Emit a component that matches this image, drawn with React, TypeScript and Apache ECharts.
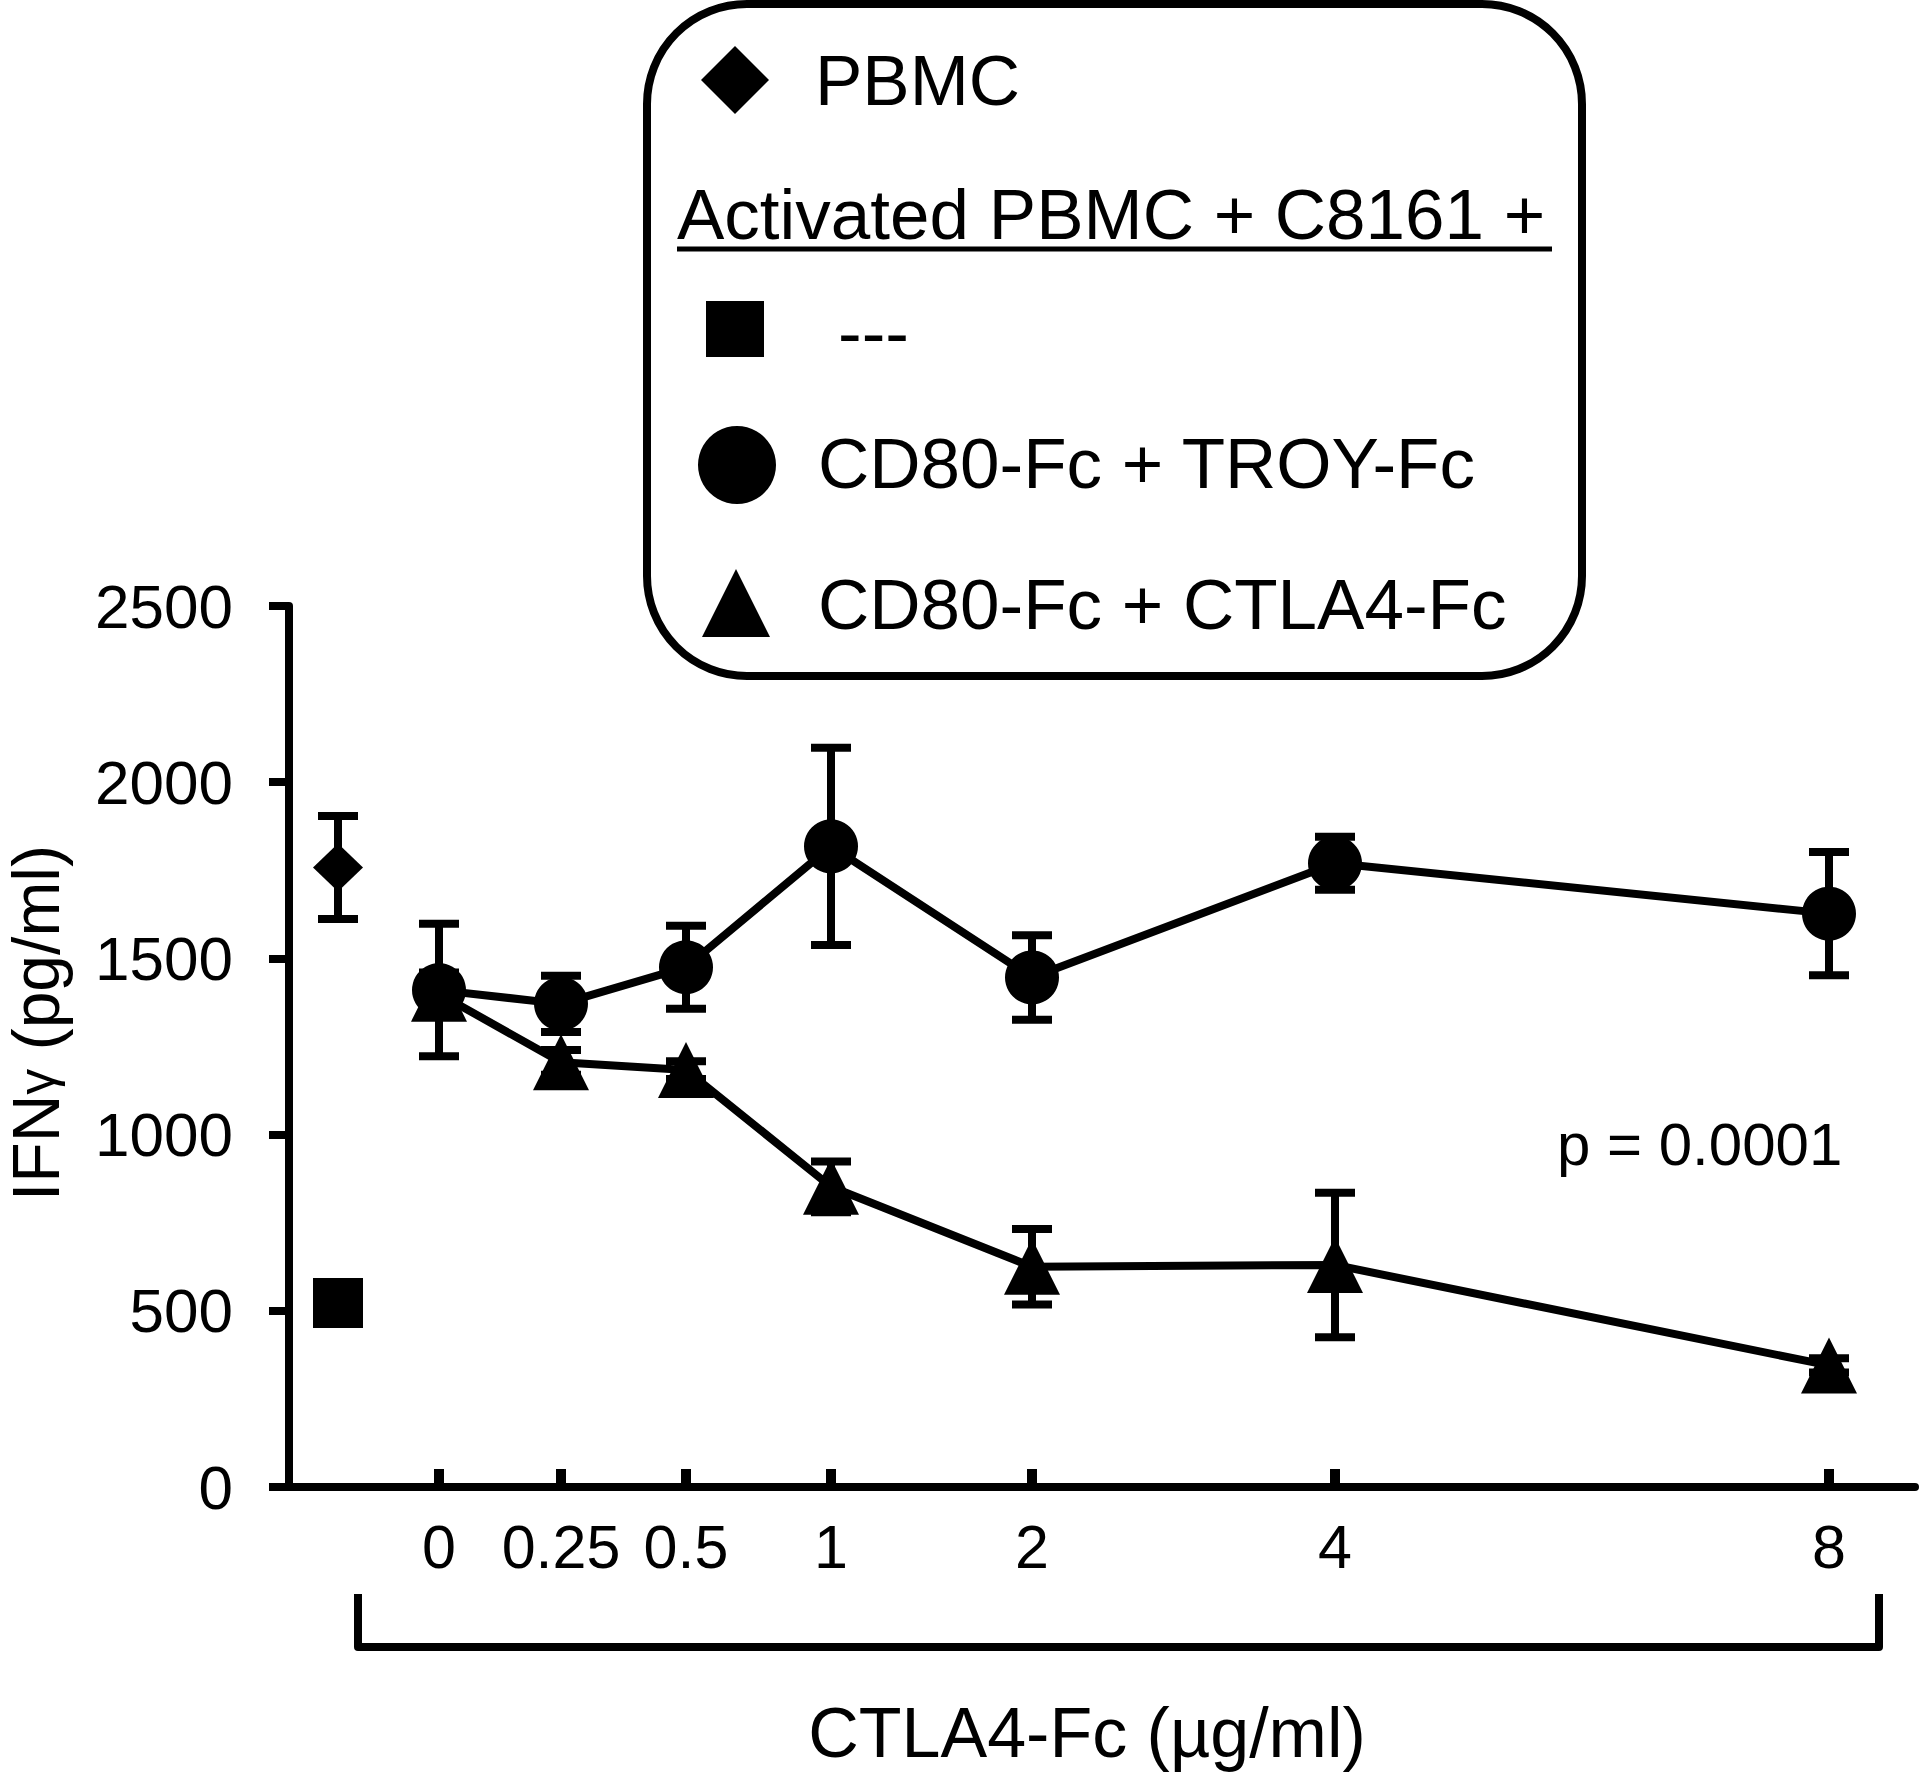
import React, { useEffect, useRef } from "react";
import * as echarts from "echarts";

const FONT = '"Liberation Sans", Arial, Helvetica, sans-serif';

// x tick labels (CTLA4-Fc concentration, µg/ml) and their slot positions on the axis
const concLabels = ["0", "0.25", "0.5", "1", "2", "4", "8"];
const concPos = [1.5, 2.72, 3.97, 5.42, 7.43, 10.46, 15.4];
const controlPos = 0.49;

// controls
const pbmcMean = 1758;
const pbmcErr = 146;
const unstimMean = 522;

// Activated PBMC + C8161 + CD80-Fc + TROY-Fc
const troyMeans = [1410, 1371, 1475, 1818, 1446, 1770, 1627];
const troyErr = [188, 80, 118, 280, 120, 75, 175];

// Activated PBMC + C8161 + CD80-Fc + CTLA4-Fc
const ctlaMeans = [1400, 1205, 1183, 852, 625, 630, 345];
const ctlaErr = [60, 35, 25, 72, 107, 205, 20];

const yMin = 0;
const yMax = 2500;
const yStep = 500;

export default function App() {
  const ref = useRef<HTMLDivElement>(null);

  useEffect(() => {
    if (!ref.current) return;
    const chart = echarts.init(ref.current, null, { renderer: "svg" });

    const troyData = concPos.map((x, i) => [x, troyMeans[i]]);
    const ctlaData = concPos.map((x, i) => [x, ctlaMeans[i]]);
    const errData: number[][] = [
      [controlPos, pbmcMean, pbmcErr],
      ...concPos.map((x, i) => [x, troyMeans[i], troyErr[i]]),
      ...concPos.map((x, i) => [x, ctlaMeans[i], ctlaErr[i]]),
    ];

    const errRender = (_p: any, api: any) => {
      const x = api.value(0);
      const y = api.value(1);
      const e = api.value(2);
      const top = api.coord([x, y + e]);
      const bot = api.coord([x, y - e]);
      const hw = 20;
      const style = { stroke: "#000", lineWidth: 8 };
      return {
        type: "group",
        children: [
          { type: "line", shape: { x1: top[0], y1: top[1], x2: bot[0], y2: bot[1] }, style },
          { type: "line", shape: { x1: top[0] - hw, y1: top[1], x2: top[0] + hw, y2: top[1] }, style },
          { type: "line", shape: { x1: bot[0] - hw, y1: bot[1], x2: bot[0] + hw, y2: bot[1] }, style },
        ],
      };
    };

    const legendFont = 71;
    const txt = (text: string, x: number, y: number, size: number, align = "left") => ({
      type: "text",
      x,
      y,
      style: {
        text,
        fontSize: size,
        fontFamily: FONT,
        fill: "#000",
        align,
        verticalAlign: "middle",
      },
    });

    const option: any = {
      animation: false,
      backgroundColor: "#fff",
      grid: { left: 289, right: 5, top: 606, bottom: 289, containLabel: false },
      xAxis: {
        type: "value",
        min: 0,
        max: 16.26,
        axisLine: { show: true, onZero: false, lineStyle: { color: "#000", width: 8 } },
        axisTick: {
          show: true,
          inside: true,
          length: 18,
          customValues: concPos,
          lineStyle: { color: "#000", width: 10 },
        },
        axisLabel: {
          show: true,
          customValues: concPos,
          margin: 29,
          fontSize: 61,
          fontFamily: FONT,
          color: "#000",
          formatter: (v: number) => {
            const i = concPos.findIndex((p) => Math.abs(p - v) < 1e-6);
            return i >= 0 ? concLabels[i] : "";
          },
        },
        splitLine: { show: false },
      },
      yAxis: {
        type: "value",
        min: yMin,
        max: yMax,
        interval: yStep,
        axisLine: { show: true, lineStyle: { color: "#000", width: 8 } },
        axisTick: { show: true, inside: false, length: 20, lineStyle: { color: "#000", width: 8 } },
        axisLabel: {
          margin: 56,
          fontSize: 62,
          fontFamily: FONT,
          color: "#000",
          formatter: (v: number) => String(v),
        },
        splitLine: { show: false },
      },
      series: [
        {
          name: "PBMC",
          type: "scatter",
          symbol: "diamond",
          symbolSize: [50, 48],
          itemStyle: { color: "#000", opacity: 1 },
          data: [[controlPos, pbmcMean]],
        },
        {
          name: "---",
          type: "scatter",
          symbol: "rect",
          symbolSize: 50,
          itemStyle: { color: "#000", opacity: 1 },
          data: [[controlPos, unstimMean]],
        },
        {
          name: "CD80-Fc + CTLA4-Fc",
          type: "line",
          symbol: "triangle",
          symbolSize: 56,
          showAllSymbol: true,
          itemStyle: { color: "#000", opacity: 1 },
          lineStyle: { color: "#000", width: 8 },
          data: ctlaData,
        },
        {
          name: "CD80-Fc + TROY-Fc",
          type: "line",
          symbol: "circle",
          symbolSize: 54,
          showAllSymbol: true,
          itemStyle: { color: "#000", opacity: 1 },
          lineStyle: { color: "#000", width: 8 },
          data: troyData,
        },
        {
          name: "error",
          type: "custom",
          renderItem: errRender,
          encode: { x: 0, y: 1 },
          data: errData,
          z: 3,
        },
      ],
      graphic: [
        // y axis title
        {
          type: "text",
          x: 36,
          y: 1023,
          rotation: Math.PI / 2,
          style: {
            text: "{a|IFN}{g|γ}{a| (pg/ml)}",
            fontFamily: FONT,
            fill: "#000",
            align: "center",
            verticalAlign: "middle",
            rich: {
              a: { fontSize: 66, fontFamily: FONT, fill: "#000" },
              g: { fontSize: 52, fontFamily: FONT, fill: "#000" },
            },
          },
        },
        // x axis title
        txt("CTLA4-Fc (µg/ml)", 1087, 1733, 70, "center"),
        // p value
        txt("p = 0.0001", 1557, 1144, 60, "left"),
        // bracket under x labels
        {
          type: "polyline",
          shape: {
            points: [
              [358, 1594],
              [358, 1647],
              [1879, 1647],
              [1879, 1594],
            ],
          },
          style: { stroke: "#000", lineWidth: 8, fill: "none", lineJoin: "round" },
        },
        // legend box
        {
          type: "rect",
          shape: { x: 647, y: 4, width: 935, height: 672, r: 100 },
          style: { fill: "#fff", stroke: "#000", lineWidth: 8 },
          z: 10,
        },
        {
          type: "polygon",
          shape: { points: [[735, 46], [769, 80], [735, 114], [701, 80]] },
          style: { fill: "#000" },
          z: 11,
        },
        { ...txt("PBMC", 815, 80, legendFont), z: 11 },
        { ...txt("Activated PBMC + C8161 +", 677, 214, legendFont), z: 11 },
        {
          type: "line",
          shape: { x1: 677, y1: 249, x2: 1552, y2: 249 },
          style: { stroke: "#000", lineWidth: 5 },
          z: 11,
        },
        {
          type: "rect",
          shape: { x: 706, y: 301, width: 58, height: 56 },
          style: { fill: "#000" },
          z: 11,
        },
        { ...txt("---", 838, 332, legendFont), z: 11 },
        {
          type: "circle",
          shape: { cx: 737, cy: 465, r: 39 },
          style: { fill: "#000" },
          z: 11,
        },
        { ...txt("CD80-Fc + TROY-Fc", 818, 463, legendFont), z: 11 },
        {
          type: "polygon",
          shape: { points: [[736, 569], [770, 637], [702, 637]] },
          style: { fill: "#000" },
          z: 11,
        },
        { ...txt("CD80-Fc + CTLA4-Fc", 818, 604, legendFont), z: 11 },
      ],
    };

    chart.setOption(option);
    return () => chart.dispose();
  }, []);

  return (
    <div
      ref={ref}
      style={{ position: "absolute", left: 0, top: 0, width: 1920, height: 1776, background: "#fff" }}
    />
  );
}
